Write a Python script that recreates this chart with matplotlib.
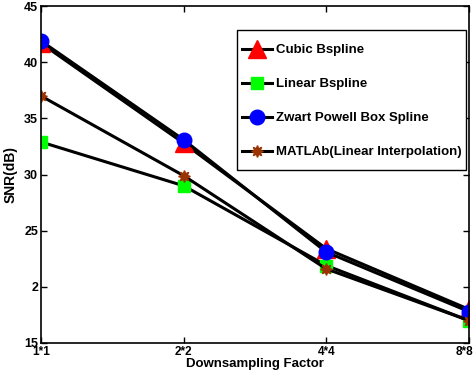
import matplotlib
matplotlib.use("Agg")
import matplotlib.pyplot as plt
from matplotlib.patches import Rectangle
from matplotlib.transforms import ScaledTranslation

plt.rcParams['font.family'] = ['Liberation Sans', 'DejaVu Sans']
plt.rcParams['font.weight'] = 'bold'

factors = ["1*1", "2*2", "4*4", "8*8"]
cubic_bspline = [41.7, 32.8, 23.4, 18.0]
linear_bspline = [32.9, 29.0, 21.9, 17.0]
zwart_powell = [41.9, 33.1, 23.1, 17.8]
matlab_linear = [37.0, 29.9, 21.6, 17.0]

yticks = [15, 20, 25, 30, 35, 40, 45]
ytick_labels = ["15", "2", "25", "30", "35", "40", "45"]

W, H = 476, 379
fig = plt.figure(figsize=(W / 100, H / 100), dpi=100)
ax = fig.add_axes([0.086, 0.095, 0.899, 0.889])

x = list(range(1, len(factors) + 1))
brown = (0.6, 0.2, 0.0)

ax.plot(x, cubic_bspline, color='black', lw=2.2, marker='^', ms=12.5,
        mfc='red', mec='red', label='Cubic Bspline')
ax.plot(x, linear_bspline, color='black', lw=2.2, marker='s', ms=8,
        mfc='#00ff00', mec='#00ff00', label='Linear Bspline')
ax.plot(x, zwart_powell, color='black', lw=2.2, marker='o', ms=10.5,
        mfc='blue', mec='blue', label='Zwart Powell Box Spline')
ax.plot(x, matlab_linear, color='black', lw=2.2, marker=(8, 1, 0), ms=8.5,
        mfc=brown, mec=brown, label='MATLAb(Linear Interpolation)')

ax.set_xlim(1, 4)
ax.set_ylim(15, 45)
ax.set_xticks(x)
ax.set_xticklabels(factors, fontsize=8.5, fontweight='bold')
ax.set_yticks(yticks)
ax.set_yticklabels(ytick_labels, fontsize=9, fontweight='bold')
ax.tick_params(direction='in', length=4, width=1, top=True, right=True, pad=2)
for s in ax.spines.values():
    s.set_linewidth(1.2)

# keep the last category label inside the figure edge
last = ax.get_xticklabels()[-1]
last.set_transform(last.get_transform() + ScaledTranslation(-4 / 100, 0, fig.dpi_scale_trans))

ax.set_xlabel('Downsampling Factor', fontsize=9.5, fontweight='bold', labelpad=0)
ax.set_ylabel('SNR(dB)', fontsize=10, fontweight='bold', labelpad=5)

# legend entries, with a plain rectangular box drawn around them
leg = ax.legend(loc='upper left', bbox_to_anchor=(242 / W, 1 - 44 / H),
                bbox_transform=fig.transFigure, fontsize=9.5, frameon=False,
                handlelength=2.3, labelspacing=1.65, borderpad=0.0,
                handletextpad=0.25, borderaxespad=0.0)
for t in leg.get_texts():
    t.set_fontweight('bold')
leg.set_zorder(6)
box = Rectangle((237 / W, 1 - 170 / H), 229 / W, 140 / H,
                transform=fig.transFigure, facecolor='white',
                edgecolor='black', lw=1.0, zorder=5, clip_on=False)
ax.add_patch(box)

fig.savefig('out.png', dpi=100)
